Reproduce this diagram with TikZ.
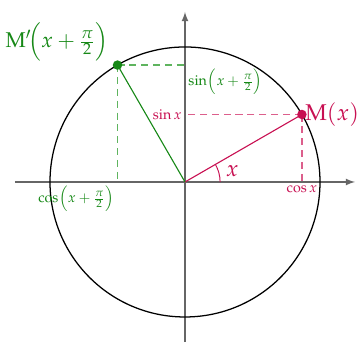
\documentclass[tikz,border=0pt]{standalone}
\usepackage{amsmath,amssymb}
\usepackage{mathpazo}
\usepackage{xcolor}
\definecolor{rouge}{RGB}{200,16,82}
\definecolor{vert}{RGB}{22,136,22}
\definecolor{rougeclair}{RGB}{220,95,140}
\definecolor{vertclair}{RGB}{95,180,95}

\begin{document}
\begin{tikzpicture}[scale=1]
\useasboundingbox (-4.111,-3.667) rectangle (3.889,4.044);
\coordinate (O) at (0,0);
\coordinate (xmin) at (-3.778,0);
\coordinate (xmax) at (3.778,0);
\coordinate (ymin) at (0,-3.556);
\coordinate (ymax) at (0,3.778);
\coordinate (M) at (30:3);
\coordinate (Mp) at (120:3);
\coordinate (Mx) at (M |- O);
\coordinate (My) at (M -| O);
\coordinate (Mpx) at (Mp |- O);
\coordinate (Mpy) at (Mp -| O);
\draw[line width=1pt,black!60,-latex] (xmin)--(xmax);
\draw[line width=1pt,black!60,-latex] (ymin)--(ymax);
\draw[line width=0.8pt] (O) circle (3);
\draw[line width=1pt,rougeclair,dash pattern=on 4.5pt off 3pt] (M)--(My);
\draw[line width=1pt,rougeclair,dash pattern=on 4.5pt off 3pt] (M)--(Mx);
\draw[line width=1pt,vertclair,dash pattern=on 4.5pt off 3pt] (Mp)--(Mpy);
\draw[line width=1pt,vertclair,dash pattern=on 4.5pt off 3pt] (Mp)--(Mpx);
\draw[line width=0.7pt,rouge] (O)--(M);
\draw[line width=0.7pt,vert] (O)--(Mp);
\draw[line width=0.6pt,rouge] (0.78,0) arc[start angle=0,end angle=30,radius=0.78];
\fill[rouge] (M) circle (3pt) node[right,inner sep=2pt] (lM) {\Large $\mathrm{M}(x)$};
\fill[vert] (Mp) circle (3pt);
\node[vert,anchor=south east,inner sep=0pt] (lMp) at ([shift={(-0.2,0.06)}]Mp) {\fontsize{13.5}{16}\selectfont $\mathrm{M}'\!\Bigl(x+\frac{\pi}{2}\Bigr)$};
\node[rouge,left,inner sep=2pt] (sinx) at (My) {\small $\sin x$};
\node[rouge,below,inner sep=2pt] (cosx) at (Mx) {\small $\cos x$};
\node[vert,below right,inner sep=2pt] (sinxp) at (Mpy) {\small $\sin\mkern1mu\Bigl(x+\frac{\pi}{2}\Bigr)$};
\node[vert,below left,inner sep=2pt] (cosxp) at (Mpx) {\small $\cos\mkern1mu\Bigl(x+\frac{\pi}{2}\Bigr)$};
\node[rouge] (angx) at (13:1.08) {\Large $x$};
\end{tikzpicture}
\end{document}
